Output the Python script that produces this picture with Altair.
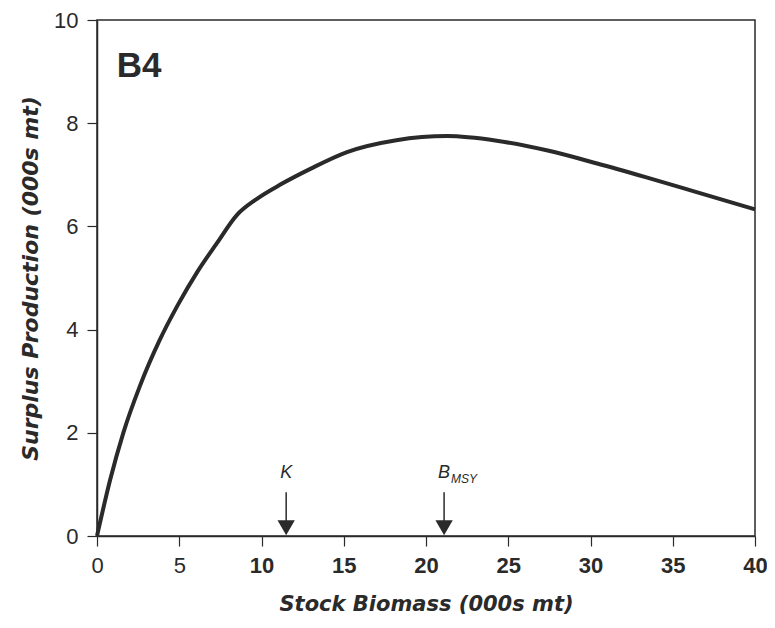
import altair as alt
import pandas as pd

# Surplus production curve
biomass = [0, 0.8, 1.6, 2.6, 3.8, 4.9, 6.1, 7.3, 8.5, 9.7, 11.2, 13.0, 15.2, 18.2, 21.3, 24.3, 27.4, 30.4, 33.4, 36.5, 40]
production = [0, 1.09, 2.0, 2.9, 3.79, 4.47, 5.12, 5.68, 6.22, 6.53, 6.82, 7.12, 7.44, 7.67, 7.75, 7.66, 7.47, 7.22, 6.95, 6.66, 6.33]

# Reference-point markers
marker_names = ["K", "B"]
marker_x = [11.5, 21.1]
marker_subscripts = ["", "MSY"]
arrow_top = 0.85
arrow_head = 0.16
label_y = 1.13

panel_label = ["B4"]
panel_x = [1.2]
panel_y = [8.9]

x_ticks = [0, 5, 10, 15, 20, 25, 30, 35, 40]
y_ticks = [0, 2, 4, 6, 8, 10]

FONT = "Liberation Sans"
TITLE_FONT = "DejaVu Sans"
INK = "#2a2a2a"

curve_df = pd.DataFrame({"x": biomass, "y": production})
mk_df = pd.DataFrame({"x": marker_x, "name": marker_names, "sub": marker_subscripts,
                      "top": [arrow_top] * len(marker_x), "head": [arrow_head] * len(marker_x),
                      "ly": [label_y] * len(marker_x)})
panel_df = pd.DataFrame({"x": panel_x, "y": panel_y, "t": panel_label})

xs = alt.Scale(domain=[0, 40], nice=False, zero=False)
ys = alt.Scale(domain=[0, 10], nice=False, zero=False)

curve = alt.Chart(curve_df).mark_line(
    color=INK, strokeWidth=4, interpolate="monotone"
).encode(
    x=alt.X("x:Q", scale=xs, title="Stock Biomass (000s mt)",
            axis=alt.Axis(values=x_ticks, format="d", labelFlush=False,
                          labelFontWeight=alt.condition("datum.value >= 10", alt.value("bold"), alt.value("normal")))),
    y=alt.Y("y:Q", scale=ys, title="Surplus Production (000s mt)",
            axis=alt.Axis(values=y_ticks, format="d", labelFlush=False)),
)

rules = alt.Chart(mk_df).mark_rule(color=INK, strokeWidth=1.5).encode(
    x="x:Q", y="top:Q", y2="head:Q"
)
heads = alt.Chart(mk_df).mark_point(
    shape="triangle-down", filled=True, color=INK, opacity=1, size=300
).encode(x="x:Q", y="head:Q")

names = alt.Chart(mk_df).mark_text(
    font=FONT, fontSize=18, fontStyle="italic", color=INK, baseline="alphabetic", align="center"
).encode(x="x:Q", y="ly:Q", text="name:N")

subs = alt.Chart(mk_df).mark_text(
    font=FONT, fontSize=12, fontStyle="italic", color=INK, baseline="alphabetic", align="left", dx=7, dy=5
).encode(x="x:Q", y="ly:Q", text="sub:N")

panel = alt.Chart(panel_df).mark_text(
    font=FONT, fontSize=35, fontWeight="bold", color=INK, baseline="alphabetic", align="left"
).encode(x="x:Q", y="y:Q", text="t:N")

chart = alt.layer(curve, rules, heads, names, subs, panel).properties(
    width=658, height=516,
    autosize=alt.AutoSizeParams(type="none"),
    padding={"left": 89, "top": 12, "right": 12, "bottom": 82},
).configure_view(
    stroke=INK, strokeWidth=1.5, fill="white"
).configure_axis(
    grid=False,
    domainColor=INK, domainWidth=1.5,
    tickColor=INK, tickWidth=1.2, tickSize=10,
    labelFont=FONT, labelFontSize=22, labelColor=INK, labelPadding=9,
    titleFont=TITLE_FONT, titleFontSize=21, titleFontWeight="bold", titleFontStyle="italic",
    titleColor=INK,
).configure_axisX(
    labelPadding=9, titlePadding=17
).configure_axisY(
    titlePadding=11, titleFontSize=22
)

chart.save("out.html", embed_options={"renderer": "svg", "actions": False})
